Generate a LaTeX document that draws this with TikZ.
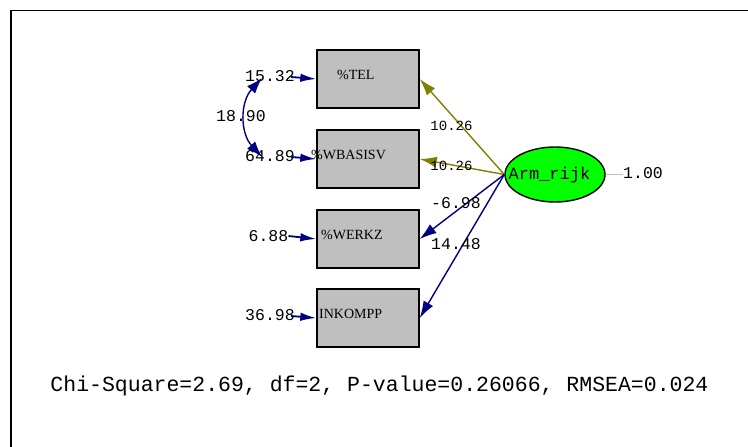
\documentclass[tikz,border=0pt]{standalone}
\usepackage{fontspec}
\setmainfont{Liberation Serif}
\newfontfamily\monofont{Liberation Mono}
\usetikzlibrary{shapes,arrows.meta,positioning}

\begin{document}
\begin{tikzpicture}[
    x=1pt,
    y=-1pt,
    observed/.style={
        rectangle,
        draw=black,
        line width=1.4pt,
        fill=black!25,
        minimum width=102pt,
        minimum height=58pt
    },
    latent/.style={
        ellipse,
        draw=black,
        line width=1.4pt,
        fill=green,
        minimum width=100pt,
        minimum height=55pt,
        inner sep=0pt
    },
    varname/.style={
        anchor=west,
        inner sep=0pt,
        font=\fontsize{14}{14}\selectfont
    },
    value/.style={
        inner sep=0pt,
        font=\monofont\fontsize{16.5}{16.5}\selectfont
    },
    olivearrow/.style={
        line width=1.4pt,
        draw={rgb,255:red,128;green,128;blue,0},
        -{Latex[length=17pt,width=11pt]}
    },
    navyarrow/.style={
        line width=1.4pt,
        draw={rgb,255:red,0;green,0;blue,128},
        -{Latex[length=17pt,width=11pt]}
    },
    errarrow/.style={
        line width=1.8pt,
        draw={rgb,255:red,0;green,0;blue,128},
        -{Latex[length=16pt,width=8.5pt]}
    }
]

\useasboundingbox (0,0) rectangle (748,447);

% Rahmen
\draw[line width=1.5pt] (748,10.5) -- (11,10.5) -- (11,447);

% Indikatoren
\node[observed] (tel) at (368,79) {};
\node[observed] (wbasisv) at (368,159) {};
\node[observed] (werkz) at (368,239) {};
\node[observed] (inkompp) at (368,318) {};

\node[varname] (teltxt) at (337,75) {\%TEL};
\node[varname] (wbasisvtxt) at (311,155) {\%WBASISV};
\node[varname] (werkztxt) at (321,235) {\%WERKZ};
\node[varname] (inkompptxt) at (319,314) {INKOMPP};

% Latente Variable
\node[latent] (arm) at (555,174.5) {};
\node[value, font=\monofont\fontsize{17}{17}\selectfont] (armtxt) at (549.5,175) {Arm\_rijk};
\node[value] (armvar) at (643,173) {1.00};
\draw[black!25, line width=1.4pt] (arm.east) -- (arm.east -| armvar.west);

% Fehlervarianzen
\node[value] (e1) at (270,76) {15.32};
\node[value] (e2) at (270,156) {64.89};
\node[value] (e3) at (268.5,236) {6.88};
\node[value] (e4) at (270,315) {36.98};

\draw[errarrow] (e1.east) ++(-4,1) -- (tel.west);
\draw[errarrow] (e2.east) ++(-4,1) -- (wbasisv.west);
\draw[errarrow] (e3.east) -- (werkz.west);
\draw[errarrow] (e4.east) ++(-4,1) -- (inkompp.west);

% Kovarianz
\coordinate (c1) at (262,78);
\coordinate (c2) at (262,157);
\draw[navyarrow, {Latex[length=16pt,width=11pt]}-{Latex[length=16pt,width=11pt]}]
    (c1) .. controls (240,102) and (240,133) .. (c2);
\node[value] (cov) at (241,116) {18.90};

% Ladungen
\draw[olivearrow] (arm.west) -- (tel.east);
\draw[olivearrow] (arm.west) -- (wbasisv.east);
\draw[navyarrow] (arm.west) -- (werkz.east);
\draw[navyarrow] (arm.west) -- (inkompp.east);

\node[value, font=\monofont\fontsize{14}{14}\selectfont] (l1) at (451.5,126) {10.26};
\node[value, font=\monofont\fontsize{14}{14}\selectfont] (l2) at (451.5,166) {10.26};
\node[value] (l3) at (456,203) {-6.98};
\node[value] (l4) at (456,244) {14.48};

% Anpassung
\node[inner sep=0pt, font=\monofont\fontsize{21.5}{21.5}\selectfont] (fit) at (379.5,386)
    {Chi-Square=2.69, df=2, P-value=0.26066, RMSEA=0.024};

\end{tikzpicture}
\end{document}
